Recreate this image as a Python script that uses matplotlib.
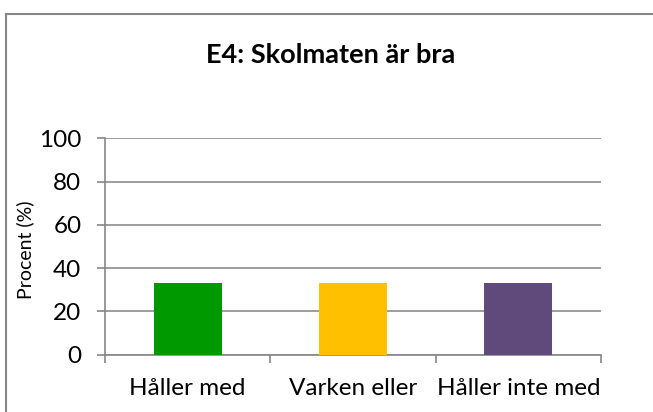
import matplotlib
matplotlib.use("Agg")
import matplotlib.pyplot as plt
from matplotlib.lines import Line2D

plt.rcParams['font.family'] = ['Lato', 'DejaVu Sans']

categories = ["Håller med", "Varken eller", "Håller inte med"]
values = [33.3, 33.3, 33.3]
colors = ["#009900", "#FFC000", "#604A7B"]
title = "E4: Skolmaten är bra"
ylabel = "Procent (%)"
yticks = [0, 20, 40, 60, 80, 100]

W, H = 653, 412
fig = plt.figure(figsize=(W / 100, H / 100), dpi=100)

# chart frame (left and top edges)
frame_kw = dict(transform=fig.transFigure, color="#868686", linewidth=1.5)
fig.add_artist(Line2D([6 / W, 6 / W], [0, 1 - 14 / H], **frame_kw))
fig.add_artist(Line2D([6 / W, 1.01], [1 - 14 / H, 1 - 14 / H], **frame_kw))

ax = fig.add_axes([105 / W, 1 - 354.5 / H, (601 - 105) / W, (354.5 - 138.3) / H])
x = list(range(len(categories)))
ax.bar(x, values, width=0.41, color=colors, zorder=3)

ax.set_xlim(-0.5, len(categories) - 0.5)
ax.set_ylim(0, 100)
ax.set_yticks(yticks)
ax.set_yticklabels([str(v) for v in yticks], fontsize=17.5)
ax.yaxis.grid(True, color="#8c8c8c", linewidth=1.2, zorder=0)

ax.set_xticks(x)
ax.set_xticklabels(categories, fontsize=17.5)
ax.set_xticks([i - 0.5 for i in range(len(categories) + 1)], minor=True)
ax.tick_params(axis="x", which="major", length=0, pad=17)
ax.tick_params(axis="x", which="minor", length=6, width=1.2, color="#868686", direction="out")
ax.tick_params(axis="y", length=6, width=1.2, color="#868686", direction="out", pad=11)

for side in ("top", "right"):
    ax.spines[side].set_visible(False)
for side in ("left", "bottom"):
    ax.spines[side].set_color("#868686")
    ax.spines[side].set_linewidth(1.2)

fig.text(331 / W, 1 - 55 / H, title, ha="center", va="center", fontsize=19.5, fontweight="bold")
fig.text(25 / W, 1 - 250 / H, ylabel, ha="center", va="center", rotation=90, fontsize=14)

fig.savefig("out.png", dpi=100)
